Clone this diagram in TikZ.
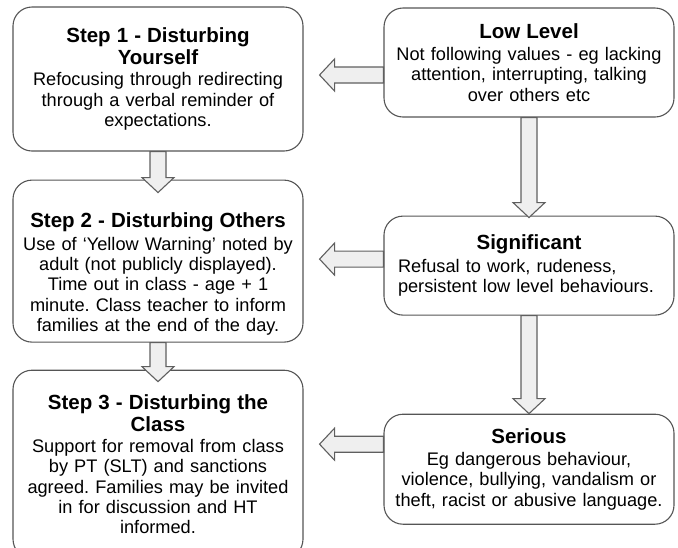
\documentclass[tikz,border=0pt]{standalone}
\usepackage{fontspec}
\setmainfont{Liberation Sans}
\usepackage{xcolor}
\usetikzlibrary{positioning,calc}
\frenchspacing
\definecolor{edgegray}{HTML}{555555}
\definecolor{arrowfill}{HTML}{EFEFEF}
\definecolor{arrowline}{HTML}{5F5F5F}
\newcommand\steptitle[1]{{\fontsize{20.5pt}{21pt}\selectfont\bfseries #1}}
\tikzset{
box/.style={
draw=edgegray,
line width=1.1pt,
rounded corners=19pt,
fill=white,
minimum width=290pt,
text width=280pt,
inner sep=5pt,
align=center,
font={\fontsize{18.2pt}{20.3pt}\selectfont}
},
bigarr/.style={
draw=arrowline,
fill=arrowfill,
line width=1.1pt
}
}
% block arrow from tail #1 to tip #2
\newcommand\bigarrow[2]{%
\path (#1) coordinate (ba-t);
\path (#2) coordinate (ba-h);
\path ($(ba-h)!15pt!(ba-t)$) coordinate (ba-b);
\draw[bigarr] ($(ba-t)!8pt!90:(ba-h)$) -- ($(ba-b)!8pt!90:(ba-h)$)
  -- ($(ba-b)!16pt!90:(ba-h)$) -- (ba-h) -- ($(ba-b)!16pt!-90:(ba-h)$)
  -- ($(ba-b)!8pt!-90:(ba-h)$) -- ($(ba-t)!8pt!-90:(ba-h)$) -- cycle;
}

\begin{document}
\begin{tikzpicture}[x=1pt,y=-1pt]
\useasboundingbox (0,0) rectangle (678,547);
\clip (0,0) rectangle (678,547);

% left column: steps
\node[box,minimum height=144pt](s1) at (158,79){\steptitle{Step 1 - Disturbing\\[1.5pt]Yourself}\\[1pt]
Refocusing through redirecting\\through a verbal reminder of\\expectations.};
\node[box,minimum height=162pt,below=28pt of s1](s2){\steptitle{\rule{0pt}{41pt}Step 2 - Disturbing Others}\\[2pt]
Use of `Yellow Warning' noted by\\adult (not publicly displayed).\\Time out in class - age + 1\\minute. Class teacher to inform\\families at the end of the day.};
\node[box,minimum height=188pt,below=27pt of s2](s3){\steptitle{Step 3 - Disturbing the\\[1.5pt]Class}\\[1pt]
Support for removal from class\\by PT (SLT) and sanctions\\agreed. Families may be invited\\in for discussion and HT\\informed.};

% right column: levels
\node[box,minimum height=109pt](low) at (529,62.5){\steptitle{Low Level}\\[2pt]
Not following values - eg lacking\\attention, interrupting, talking\\over others etc};
\node[box,minimum height=99pt,below=98pt of low](sig){\steptitle{Significant}\par\vspace{2pt}
{\raggedright\leftskip=9pt Refusal to work, rudeness,\\persistent low level behaviours.\par}};
\node[box,minimum height=110pt,below=98pt of sig](ser){\steptitle{Serious}\\[2pt]
Eg dangerous behaviour,\\violence, bullying, vandalism or\\theft, racist or abusive language.};

\bigarrow{[yshift=-12.5pt]low.west}{$(s1.east |- ba-t)+(16,0)$}
\bigarrow{[yshift=6.5pt]sig.west}{$(s2.east |- ba-t)+(16,0)$}
\bigarrow{[yshift=25pt]ser.west}{$(s3.east |- ba-t)+(16,0)$}
\bigarrow{s1.south}{$(s2.north)+(0,13)$}
\bigarrow{s2.south}{$(s3.north)+(0,12)$}
\bigarrow{low.south}{$(sig.north)+(0,2)$}
\bigarrow{sig.south}{ser.north}
\end{tikzpicture}
\end{document}
